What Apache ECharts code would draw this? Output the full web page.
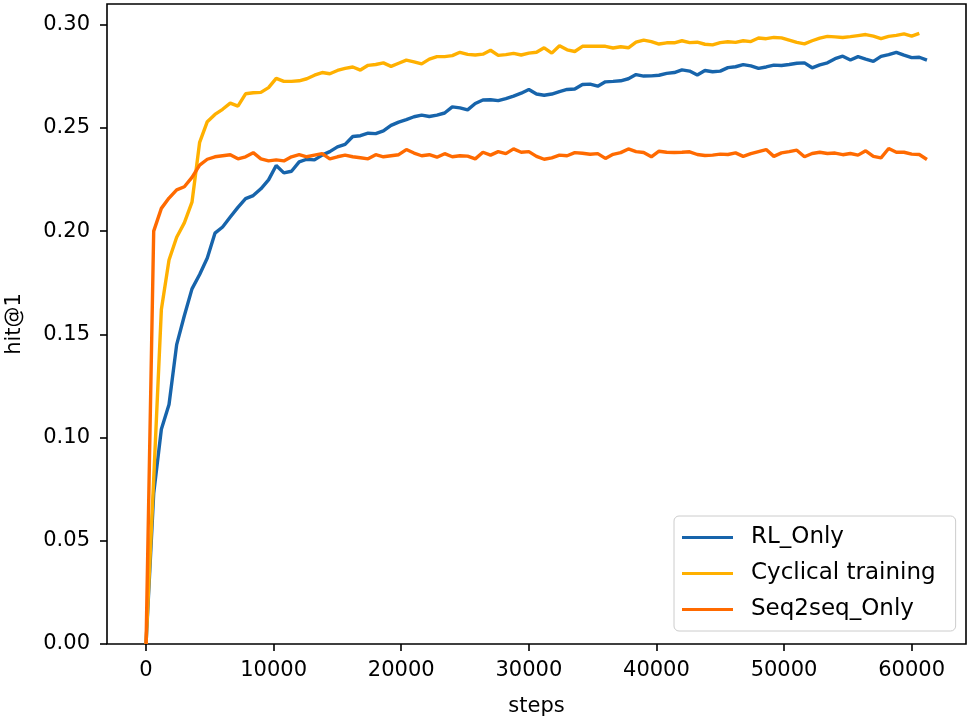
<!DOCTYPE html>
<html>
<head>
<meta charset="utf-8">
<script src="https://cdn.jsdelivr.net/npm/echarts@6/dist/echarts.min.js"></script>
<style>
html,body{margin:0;padding:0;background:#fff;}
#chart{width:973px;height:721px;}
</style>
</head>
<body>
<div id="chart"></div>
<script>
const steps = [0,600,1200,1800,2400,3000,3600,4200,4800,5400,6000,6600,7200,7800,8400,9000,9600,10200,10800,11400,
12000,12600,13200,13800,14400,15000,15600,16200,16800,17400,18000,18600,19200,19800,20400,21000,21600,22200,22800,23400,
24000,24600,25200,25800,26400,27000,27600,28200,28800,29400,30000,30600,31200,31800,32400,33000,33600,34200,34800,35400,
36000,36600,37200,37800,38400,39000,39600,40200,40800,41400,42000,42600,43200,43800,44400,45000,45600,46200,46800,47400,
48000,48600,49200,49800,50400,51000,51600,52200,52800,53400,54000,54600,55200,55800,56400,57000,57600,58200,58800,59400,
60000,60600,61200];

const rlOnly = [0,0.073,0.104,0.116,0.145,0.159,0.172,0.179,0.187,0.199,0.202,0.2068,0.2115,0.2157,0.2172,0.2205,0.2248,0.2318,0.2282,0.229,
0.2335,0.2348,0.2345,0.2368,0.2385,0.2408,0.242,0.2458,0.2462,0.2474,0.2472,0.2485,0.2512,0.2528,0.254,0.2554,0.2562,0.2555,0.2562,0.2572,
0.2602,0.2597,0.2587,0.2618,0.2635,0.2636,0.2632,0.2642,0.2654,0.2668,0.2686,0.2664,0.2658,0.2664,0.2676,0.2686,0.2688,0.271,0.2712,0.2702,
0.2723,0.2725,0.2728,0.2738,0.2758,0.2751,0.2752,0.2755,0.2764,0.2768,0.2781,0.2775,0.2756,0.2778,0.2772,0.2775,0.2792,0.2796,0.2806,0.28,
0.2788,0.2795,0.2804,0.2802,0.2807,0.2813,0.2815,0.2791,0.2805,0.2815,0.2835,0.2847,0.2829,0.2845,0.2833,0.2822,0.2846,0.2855,0.2866,0.2852,
0.284,0.2842,0.2828];

const cyclical = [0,0.08,0.162,0.186,0.197,0.204,0.214,0.243,0.253,0.2565,0.259,0.262,0.2605,0.2665,0.267,0.2672,0.2695,0.274,0.2725,0.2725,
0.2728,0.2738,0.2755,0.2768,0.2762,0.2778,0.2788,0.2795,0.278,0.2803,0.2807,0.2815,0.2798,0.2813,0.2828,0.282,0.281,0.2833,0.2845,0.2845,
0.285,0.2866,0.2856,0.2853,0.2857,0.2876,0.2851,0.2855,0.2861,0.2853,0.2862,0.2866,0.2888,0.2862,0.2898,0.2878,0.287,0.2895,0.2896,0.2895,
0.2895,0.2887,0.2893,0.2888,0.2915,0.2925,0.2918,0.2906,0.2912,0.2912,0.2922,0.2913,0.2915,0.2905,0.2902,0.2913,0.2917,0.2914,0.2922,0.2918,
0.2935,0.2932,0.2938,0.2936,0.2925,0.2914,0.2907,0.2922,0.2935,0.2943,0.2941,0.2938,0.2942,0.2947,0.2952,0.2944,0.2932,0.2943,0.2948,0.2955,
0.2944,0.2958];

const seq2seqOnly = [0,0.200,0.211,0.216,0.220,0.2215,0.226,0.232,0.2348,0.236,0.2365,0.237,0.235,0.236,0.238,0.235,0.234,0.2345,0.234,0.236,
0.237,0.236,0.2368,0.2375,0.235,0.236,0.2368,0.236,0.2355,0.235,0.237,0.236,0.2365,0.237,0.2395,0.2378,0.2365,0.237,0.2358,0.2375,
0.236,0.2365,0.2363,0.235,0.2382,0.2368,0.2385,0.2375,0.2398,0.2382,0.2385,0.2362,0.2348,0.2355,0.2368,0.2365,0.238,0.2377,0.2372,0.2375,
0.2352,0.2372,0.238,0.2398,0.2385,0.2381,0.236,0.2387,0.2382,0.2381,0.2382,0.2384,0.2371,0.2366,0.2368,0.2373,0.2371,0.2379,0.2362,0.2375,
0.2385,0.2395,0.2362,0.2379,0.2385,0.2392,0.236,0.2376,0.2382,0.2376,0.2378,0.237,0.2376,0.2368,0.2389,0.2362,0.2355,0.24,0.2382,0.2382,
0.2373,0.2371,0.2347];

const xTicks = [0,10000,20000,30000,40000,50000,60000];
const yTicks = [0,0.05,0.10,0.15,0.20,0.25,0.30];
const seriesNames = ['RL_Only','Cyclical training','Seq2seq_Only'];

function pairs(vals){ return vals.map((v,i)=>[steps[i], v]); }

const FONT = 'DejaVu Sans';
const chart = echarts.init(document.getElementById('chart'), null, {renderer:'canvas'});
const colors = ['#1764ab','#ffb000','#ff6a00'];
chart.setOption({
  animation:false,
  backgroundColor:'#fff',
  grid:{left:107,right:7,top:4,bottom:77,show:true,borderColor:'#000',borderWidth:1.6,backgroundColor:'transparent',
        containLabel:false,outerBoundsMode:'none'},
  xAxis:{
    type:'value', min:-3060, max:64260,
    name:'steps', nameLocation:'middle', nameGap:52,
    nameTextStyle:{fontFamily:FONT,fontSize:21,color:'#000'},
    axisLine:{show:false,onZero:false},
    splitLine:{show:false},
    axisTick:{show:true,inside:false,length:7,lineStyle:{color:'#000',width:1.6},customValues:xTicks},
    axisLabel:{customValues:xTicks,fontFamily:FONT,fontSize:21,color:'#000',margin:16,formatter:v=>String(v)}
  },
  yAxis:{
    type:'value', min:0, max:0.31,
    name:'hit@1', nameLocation:'middle', nameGap:82, nameRotate:90,
    nameTextStyle:{fontFamily:FONT,fontSize:21,color:'#000'},
    axisLine:{show:false,onZero:false},
    splitLine:{show:false},
    axisTick:{show:true,inside:false,length:7,lineStyle:{color:'#000',width:1.6},customValues:yTicks},
    axisLabel:{customValues:yTicks,fontFamily:FONT,fontSize:21,color:'#000',margin:17,formatter:v=>v.toFixed(2)}
  },
  legend:{
    orient:'vertical', left:674, top:516,
    padding:[10,20,10,8],
    itemGap:13, itemWidth:51, itemHeight:3, icon:'rect',
    borderColor:'#cccccc', borderWidth:1, borderRadius:5, backgroundColor:'rgba(255,255,255,0.8)',
    textStyle:{fontFamily:FONT,fontSize:23,color:'#000',padding:[0,0,0,13]},
    data:seriesNames
  },
  series:[
    {name:seriesNames[0],type:'line',data:pairs(rlOnly),showSymbol:false,symbol:'none',color:colors[0],lineStyle:{width:3.4,color:colors[0]}},
    {name:seriesNames[1],type:'line',data:pairs(cyclical),showSymbol:false,symbol:'none',color:colors[1],lineStyle:{width:3.4,color:colors[1]}},
    {name:seriesNames[2],type:'line',data:pairs(seq2seqOnly),showSymbol:false,symbol:'none',color:colors[2],lineStyle:{width:3.4,color:colors[2]}}
  ]
});
</script>
</body>
</html>
